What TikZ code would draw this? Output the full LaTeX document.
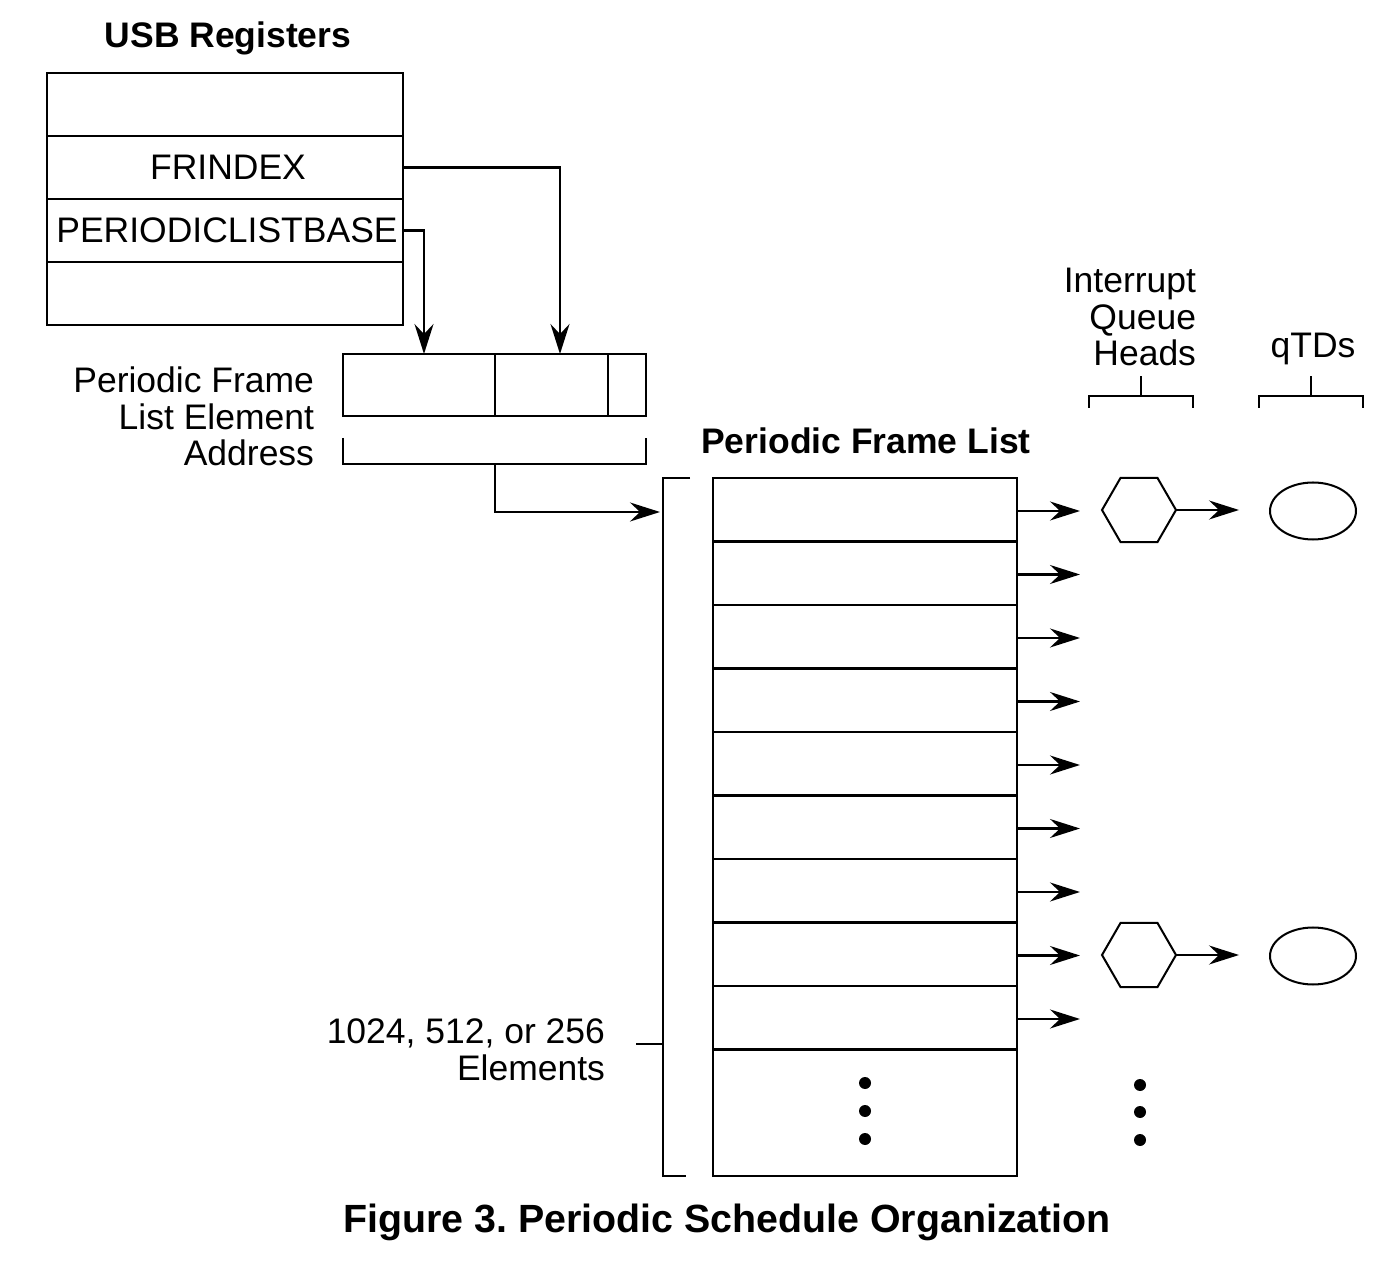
\documentclass[tikz,border=0pt]{standalone}
\usepackage{fontspec}
\setmainfont{Liberation Sans}
\usetikzlibrary{arrows.meta,shapes.geometric}
\frenchspacing
\begin{document}
\begin{tikzpicture}[x=0.02cm,y=-0.02cm, line width=1.15pt,
  every node/.style={font=\fontsize{20.2}{20.8}\selectfont},
  bold/.style={font=\bfseries\fontsize{20.2}{20.8}\selectfont},
  arr/.style={-{Stealth[length=0.6cm,width=0.38cm,inset=0.2cm]}},
  regcell/.style={draw, minimum width=7.12cm, minimum height=1.26cm, inner sep=0pt, outer sep=0pt},
  facell/.style={draw, minimum height=1.24cm, inner sep=0pt, outer sep=0pt},
  flcell/.style={draw, minimum width=6.08cm, minimum height=1.27cm, inner sep=0pt, outer sep=0pt},
  qh/.style={draw, regular polygon, regular polygon sides=6, minimum size=1.48cm, inner sep=0pt, outer sep=0pt},
  qtd/.style={draw, ellipse, minimum width=1.72cm, minimum height=1.14cm, inner sep=0pt, outer sep=0pt},
  lbl/.style={inner sep=0pt}
]
\useasboundingbox (0,0) rectangle (1390,1266);

% USB registers
\node[bold, lbl, anchor=base] (usbt) at (228,48) {USB Registers};
\node[regcell] (reg0) at (225,104.5) {};
\node[regcell] (reg1) at (225,167.5) {\hspace*{0.12cm}FRINDEX};
\node[regcell] (reg2) at (225,230.5) {\hspace*{0.08cm}PERIODICLISTBASE};
\node[regcell] (reg3) at (225,293.5) {};

% Periodic frame list element address
\node[facell, minimum width=3.04cm] (fa1) at (419,385) {};
\node[facell, minimum width=2.26cm] (fa2) at (551.5,385) {};
\node[facell, minimum width=0.76cm] (fa3) at (627,385) {};
\node[lbl, align=right, anchor=east] (fatxt) at (315,416.5) {Periodic Frame\\List Element\\Address};

\draw[arr] (reg1.east) -| ([xshift=0.17cm]fa2.north);
\draw[arr] (reg2.east) -| ([xshift=0.1cm]fa1.north);

\draw (343,438) -- (343,464) -- (646,464) -- (646,438);
\coordinate (brm) at (495,464);
\coordinate (flin) at (660,512);
\draw[arr] (brm) |- (flin);

% Periodic frame list
\node[bold, lbl, anchor=base] (fltitle) at (866,454) {Periodic Frame List};
\foreach \k in {1,...,9} {
  \node[flcell] (fl\k) at (865,{509.75+63.5*(\k-1)}) {};
  \coordinate (ae\k) at (1080,{511+63.5*(\k-1)});
  \draw[arr] (fl\k.east |- ae\k) -- (ae\k);
}
\node[flcell, minimum height=2.53cm] (flend) at (865,1112.75) {};
\foreach \yy in {1083,1111,1139} \fill (865,\yy) circle[radius=0.12cm];
\foreach \yy in {1085,1112,1140} \fill (1140,\yy) circle[radius=0.12cm];

% left bracket
\draw (690,478) -- (663,478) -- (663,1176) -- (686,1176);
\draw (636,1044) -- (663,1044);
\node[lbl, align=right, anchor=east] (elt) at (606,1050) {1024, 512, or 256\\Elements};

% headings
\node[lbl, align=right, anchor=east] (iqh) at (1197,317) {Interrupt\\Queue\\Heads};
\draw (1089,408) -- (1089,396) -- (1193,396) -- (1193,408);
\draw (1141,396) -- (1141,376);
\node[lbl, anchor=base] (qtdt) at (1313,358) {qTDs};
\draw (1259,408) -- (1259,396) -- (1363,396) -- (1363,408);
\draw (1311,396) -- (1311,376);

% queue heads and qTDs
\node[qh] (qh1) at (1139,510) {};
\node[qtd] (td1) at (1313,511) {};
\draw[arr, shorten >=0.62cm] (qh1.east) -- (qh1.east -| td1.west);
\node[qh] (qh2) at (1139,955) {};
\node[qtd] (td2) at (1313,956) {};
\draw[arr, shorten >=0.62cm] (qh2.east) -- (qh2.east -| td2.west);

% caption
\node[lbl, anchor=base, font=\bfseries\fontsize{22.4}{24}\selectfont] (cap) at (727,1232) {Figure 3. Periodic Schedule Organization};
\end{tikzpicture}
\end{document}
